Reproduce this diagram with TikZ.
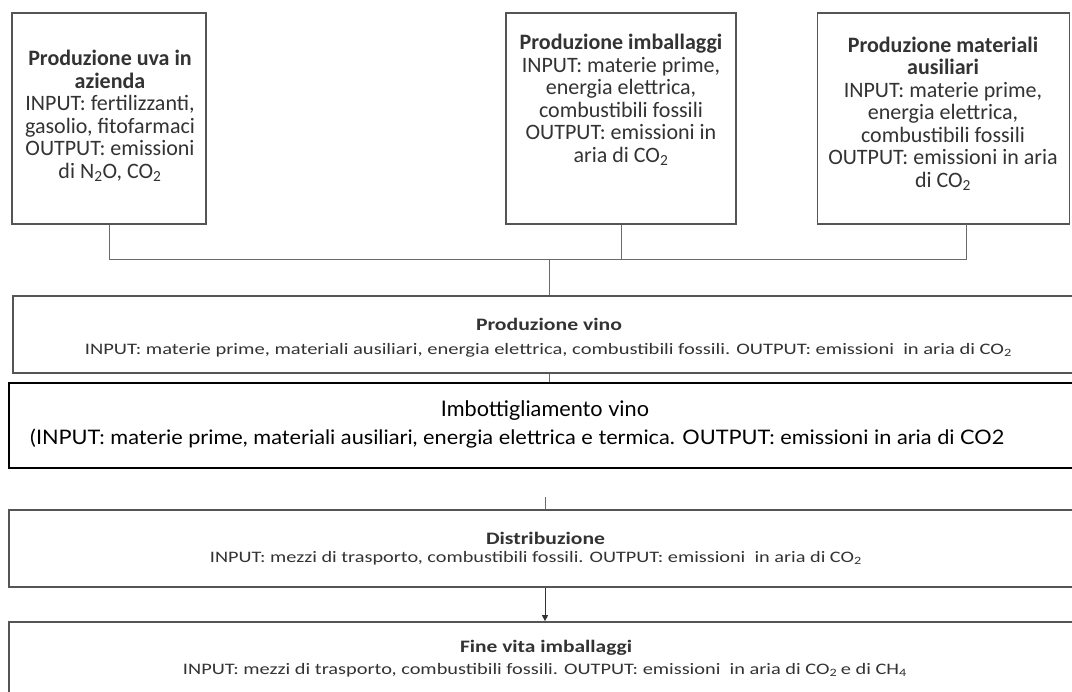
\documentclass[tikz,border=0pt]{standalone}
\usepackage{graphicx}
\usepackage{fontspec}
\setmainfont{Carlito}
\newfontfamily\avfont{Lato}
\usetikzlibrary{arrows.meta}
\definecolor{txt}{HTML}{333333}
\definecolor{bord}{HTML}{555555}
\definecolor{conn}{HTML}{6A6A6A}
\newcommand{\fitw}[2]{\resizebox{#1}{\height}{#2}}
\tikzset{
  topbox/.style={draw=bord, line width=1.6pt, rectangle, inner sep=0pt},
  rowbox/.style={draw=bord, line width=1.7pt, rectangle, inner sep=0pt},
  blackbox/.style={draw=black, line width=2.3pt, rectangle, inner sep=0pt},
  toptext/.style={inner sep=0pt, align=center, text=txt, font=\fontsize{22}{22.5}\selectfont},
  rowtitle/.style={inner sep=0pt, text=txt, font=\fontsize{17.5}{20}\selectfont\bfseries},
  rowline/.style={inner sep=0pt, text=txt, font=\fontsize{16}{19}\selectfont},
  imbtitle/.style={inner sep=0pt, text=black, font=\fontsize{21.5}{24}\avfont},
  imbline/.style={inner sep=0pt, text=black, font=\fontsize{20}{24}\avfont},
  conline/.style={draw=conn, line width=1pt},
  arrowline/.style={draw=black!80, line width=0.9pt, -{Triangle[length=6pt,width=6pt]}}
}
\begin{document}
\begin{tikzpicture}[x=1pt,y=-1pt]
\useasboundingbox (0,0) rectangle (1072,692);
\clip (0,0) rectangle (1072,692);
\fill[white] (0,0) rectangle (1072,692);
% top boxes
\node[topbox, minimum width=194pt, minimum height=211pt] (b1) at (109,118.5) {};
\node[topbox, minimum width=230pt, minimum height=211pt] (b2) at (621,118.5) {};
\node[topbox, minimum width=252pt, minimum height=211pt] (b3) at (943.5,118.5) {};
\node[toptext] (t1) at (110,116) {\textbf{Produzione uva in}\\\textbf{azienda}\\INPUT: fertilizzanti,\\gasolio, fitofarmaci\\OUTPUT: emissioni\\di N\textsubscript{2}O, CO\textsubscript{2}};
\node[toptext] (t2) at (621,100) {\textbf{Produzione imballaggi}\\INPUT: materie prime,\\energia elettrica,\\combustibili fossili\\OUTPUT: emissioni in\\aria di CO\textsubscript{2}};
\node[toptext] (t3) at (943,113.5) {\textbf{Produzione materiali}\\\textbf{ausiliari}\\INPUT: materie prime,\\energia elettrica,\\combustibili fossili\\OUTPUT: emissioni in aria\\di CO\textsubscript{2}};
% row boxes
\node[rowbox, minimum width=1072pt, minimum height=77pt] (vino) at (549,334.5) {};
\node[blackbox, minimum width=1076pt, minimum height=85pt] (imb) at (547,425.5) {};
\node[rowbox, minimum width=1076pt, minimum height=77pt] (dist) at (547,548.5) {};
\node[rowbox, minimum width=1076pt, minimum height=110pt] (fine) at (547,677) {};
% row texts
\node[rowtitle] (vinot) at (549,324) {\fitw{146pt}{Produzione vino}};
\node[rowline] (vinol) at (548.5,350) {\fitw{927pt}{INPUT: materie prime, materiali ausiliari, energia elettrica, combustibili fossili. OUTPUT: emissioni \ in aria di CO\textsubscript{2}}};
\node[imbtitle] (imbt) at (545,411) {\fitw{208pt}{Imbottigliamento vino}};
\node[imbline, anchor=base west] (imbl) at (30,445) {\fitw{974pt}{(INPUT: materie prime, materiali ausiliari, energia elettrica e termica. OUTPUT: emissioni in aria di CO2}};
\node[rowtitle] (distt) at (545.5,538) {\fitw{119pt}{Distribuzione}};
\node[rowline] (distl) at (536,558) {\fitw{652pt}{INPUT: mezzi di trasporto, combustibili fossili. OUTPUT: emissioni \ in aria di CO\textsubscript{2}}};
\node[rowtitle] (finet) at (546,648) {\fitw{172pt}{Fine vita imballaggi}};
\node[rowline] (finel) at (545,670) {\fitw{724pt}{INPUT: mezzi di trasporto, combustibili fossili. OUTPUT: emissioni \ in aria di CO\textsubscript{2}\,e di CH\textsubscript{4}}};
% connectors
\coordinate (h) at (0,260);
\coordinate (b3c) at (966,224);
\coordinate (tk) at (545,497);
\draw[conline] (b1.south) -- (b1.south |- h) -- (b3c |- h) -- (b3c);
\draw[conline] (b2.south) -- (b2.south |- h);
\draw[conline] (vino.north |- h) -- (vino.north);
\draw[conline] (vino.south) -- (vino.south |- imb.north);
\draw[conline] (tk) -- (tk |- dist.north);
\draw[arrowline] (dist.south -| tk) -- (fine.north -| tk);
\end{tikzpicture}
\end{document}
